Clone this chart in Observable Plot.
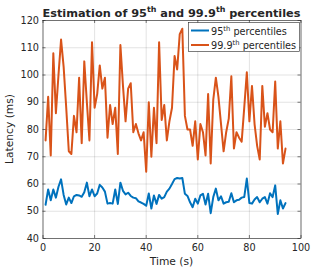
<!DOCTYPE html>
<html><head><meta charset="utf-8">
<script src="https://cdn.jsdelivr.net/npm/d3@7"></script>
<script src="https://cdn.jsdelivr.net/npm/@observablehq/plot@0.6"></script>
<style>body{margin:0;background:#fff} svg{display:block}</style>
</head><body><div id="chart"></div>
<script>
const timeS = [1,2,3,4,5,6,7,8,9,10,11,12,13,14,15,16,17,18,19,20,21,22,23,24,25,26,27,28,29,30,31,32,33,34,35,36,37,38,39,40,41,42,43,44,45,46,47,48,49,50,51,52,53,54,55,56,57,58,59,60,61,62,63,64,65,66,67,68,69,70,71,72,73,74,75,76,77,78,79,80,81,82,83,84,85,86,87,88,89,90,91,92,93,94];
const p95 = [52.4,58,54,58,55,59,61.7,56,52.5,55,53,55.5,56,55.8,55.3,57,60.5,55.5,58,55.5,56.5,59.7,58.7,57.2,52.8,53,52.8,58,52.7,60.5,57.5,56.2,56.8,55.6,55,54.8,53.6,53.2,52.7,52,56.5,51,55.8,52.7,56,54.6,55.2,57.2,58.3,60,61.8,62.2,62,62.2,56.4,55.6,53.3,51.5,54.6,52.8,55.8,56.4,52.5,56.4,49.3,55.2,58.3,54,55.5,52.8,53.3,53.5,56.6,53.3,54,54.2,55,55.2,62,53,52.8,54.3,55.2,53.3,54.6,55.2,52.8,56.6,55.2,59.5,49,54,51,53];
const p999 = [76,92,70.5,108,86,100,113,103,88,72,71,85,79,99,75,105,90,76,112,88,93,103.5,95,99,77,89,82,88,71,111,96,83,95,97,79,82,78.6,76,79,64.5,90,70,88,75,112,83.5,89,76,83,88,107,102,115,117,85,80,80,74,83,69,82,79,70.5,93,67.5,91,99,92,82,72,79,84,99.5,73,79,77,75.5,88,101,83,96,82,74,69,96,81,86,80,79,97.6,73,83,67.5,73];
const xTicks = [0,20,40,60,80,100];
const yTicks = [40,50,60,70,80,90,100,110,120];
const seriesNames = ["95th percentiles","99.9th percentiles"];
const colors = ["#0072BD","#D95319"];
const titleText = ["Estimation of 95","th"," and 99.9","th"," percentiles"];
const xLabel = "Time (s)";
const yLabel = "Latency (ms)";

const W = 332, H = 269, mL = 42.5, mR = 31.5, mT = 20, mB = 31;
const fw = W - mL - mR, fh = H - mT - mB, tk = 3;
const d95 = timeS.map((t,i)=>({t, v:p95[i]}));
const d999 = timeS.map((t,i)=>({t, v:p999[i]}));
const ink = "#262626";

const chart = Plot.plot({
  width: W, height: H,
  marginLeft: mL, marginRight: mR, marginTop: mT, marginBottom: mB,
  style: {fontFamily: "DejaVu Sans", fontSize: "9.7px", color: ink, background: "#fff"},
  x: {domain: [0,100]},
  y: {domain: [40,120]},
  marks: [
    Plot.gridX(xTicks, {stroke: ink, strokeOpacity: 0.13}),
    Plot.gridY(yTicks, {stroke: ink, strokeOpacity: 0.13}),
    Plot.line(d95, {x: "t", y: "v", stroke: colors[0], strokeWidth: 2}),
    Plot.line(d999, {x: "t", y: "v", stroke: colors[1], strokeWidth: 2}),
    Plot.frame({stroke: ink, strokeWidth: 0.6}),
    Plot.tickX(xTicks, {x: d=>d, insetTop: fh - tk, stroke: ink, strokeWidth: 0.6}),
    Plot.tickX(xTicks, {x: d=>d, insetBottom: fh - tk, stroke: ink, strokeWidth: 0.6}),
    Plot.tickY(yTicks, {y: d=>d, insetRight: fw - tk, stroke: ink, strokeWidth: 0.6}),
    Plot.tickY(yTicks, {y: d=>d, insetLeft: fw - tk, stroke: ink, strokeWidth: 0.6}),
    Plot.axisX(xTicks, {tickSize: 0, tickPadding: 6, label: null, fill: ink}),
    Plot.axisY(yTicks, {tickSize: 0, tickPadding: 4, label: null, fill: ink})
  ]
});
document.getElementById("chart").appendChild(chart);
const svg = d3.select(chart);

function richText(sel, parts, fs) {
  let up = false;
  parts.forEach((p, i) => {
    const isSup = i % 2 === 1;
    const t = sel.append("tspan").text(p);
    if (isSup) { t.attr("font-size", (fs*0.7)+"px").attr("dy", -0.42*fs); up = true; }
    else if (up) { t.attr("dy", 0.42*fs); up = false; }
  });
}

// title
const tt = svg.append("text").attr("x", mL + fw/2).attr("y", 16.5)
  .attr("text-anchor","middle").attr("font-weight","bold").attr("font-size","11.3px").attr("fill", ink);
richText(tt, titleText, 11.3);

// axis labels
svg.append("text").attr("x", mL + fw/2).attr("y", 265).attr("text-anchor","middle")
  .attr("font-size","10.7px").attr("fill", ink).text(xLabel);
svg.append("text").attr("transform", `translate(13,${mT + fh/2}) rotate(-90)`).attr("text-anchor","middle")
  .attr("font-size","10.7px").attr("fill", ink).text(yLabel);

// legend
const lg = svg.append("g");
lg.append("rect").attr("x",188.5).attr("y",22.5).attr("width",111).attr("height",29)
  .attr("fill","#fff").attr("stroke", ink).attr("stroke-width",0.6);
const rowsY = [30.5, 45];
const legendParts = [["95","th"," percentiles"],["99.9","th"," percentiles"]];
rowsY.forEach((y, i) => {
  lg.append("line").attr("x1",191).attr("x2",209).attr("y1",y).attr("y2",y)
    .attr("stroke", colors[i]).attr("stroke-width",2);
  const t = lg.append("text").attr("x",211).attr("y",y+4.3).attr("text-anchor","start")
    .attr("font-size","9.7px").attr("fill",ink);
  richText(t, legendParts[i], 9.7);
});
</script></body></html>
